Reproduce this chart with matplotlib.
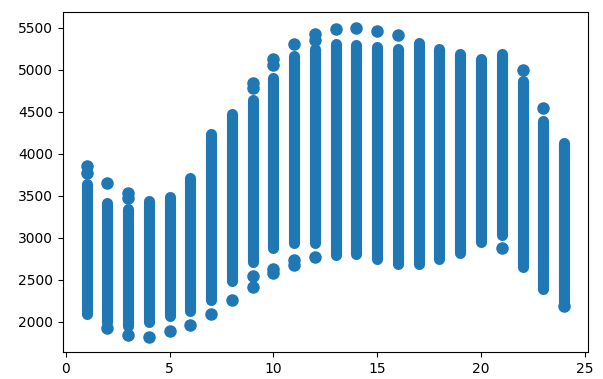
import matplotlib.pyplot as plt
import numpy as np

# Hour of day for each column
hours = np.arange(1, 25)

# Dense part of each column (lowest and highest value)
band_low = [2095, 2000, 1952, 2000, 2071, 2131, 2262, 2488, 2714, 2881, 2940, 2940,
            2789, 2800, 2750, 2690, 2690, 2750, 2817, 2948, 3026, 2651, 2393, 2182]
band_high = [3642, 3416, 3340, 3440, 3488, 3714, 4237, 4475, 4642, 4904, 5160, 5250,
             5310, 5296, 5273, 5250, 5320, 5250, 5190, 5130, 5190, 4868, 4392, 4130]

# Separate points above / below the dense part
out_hour = [1, 1, 2, 3, 3, 2, 3, 4, 5, 6, 7, 8, 9, 9, 9, 9, 10, 10, 10, 10, 11, 11, 11,
            12, 12, 12, 13, 14, 15, 16, 21, 22, 23, 24]
out_value = [3857, 3774, 3654, 3536, 3470, 1929, 1845, 1821, 1893, 1956, 2095, 2262, 4844,
             4785, 2539, 2413, 5130, 5060, 2631, 2583, 5310, 2738, 2678,
             5428, 5356, 2774, 5488, 5502, 5463, 5416, 2881, 4999, 4547, 2182]

fig = plt.figure(figsize=(6.03, 3.79), dpi=100)
ax = fig.add_axes([0.104, 0.071, 0.871, 0.897])

col = '#1f77b4'
# dense columns drawn as thick round-capped lines, same width as the markers
ax.vlines(hours, band_low, band_high, colors=col, linewidth=8.0, capstyle='round')
ax.scatter(out_hour, out_value, s=64, color=col)

ax.set_xticks([0, 5, 10, 15, 20, 25])
ax.set_yticks(np.arange(2000, 5501, 500))

fig.savefig('out.png', dpi=100)
